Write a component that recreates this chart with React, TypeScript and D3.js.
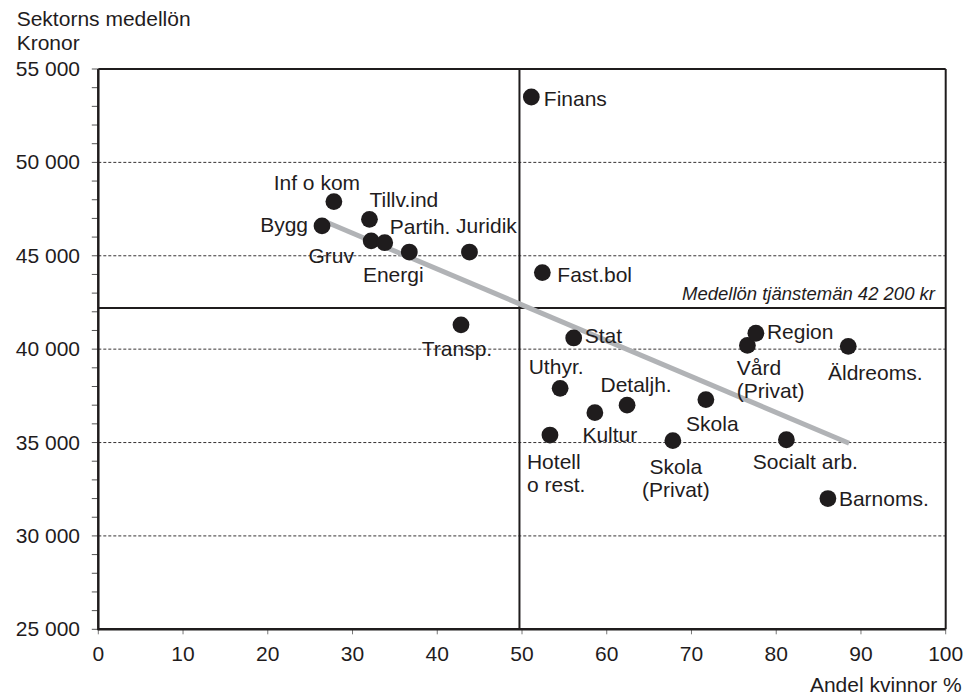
import React from "react";
import * as d3 from "d3";

const sectors = [
  "Finans", "Inf o kom", "Bygg", "Tillv.ind", "Gruv", "Partih.", "Energi", "Juridik",
  "Fast.bol", "Transp.", "Stat", "Uthyr.", "Kultur", "Detaljh.", "Hotell o rest.",
  "Skola (Privat)", "Skola", "Vård (Privat)", "Region", "Äldreoms.", "Socialt arb.", "Barnoms.",
];
const womenShare = [
  51.1, 27.8, 26.4, 32.0, 32.2, 33.8, 36.7, 43.8,
  52.4, 42.8, 56.1, 54.5, 58.6, 62.4, 53.3,
  67.8, 71.7, 76.6, 77.6, 88.5, 81.2, 86.1,
];
const salary = [
  53500, 47900, 46600, 46950, 45800, 45700, 45200, 45200,
  44100, 41300, 40600, 37900, 36600, 37000, 35400,
  35100, 37300, 40200, 40850, 40150, 35150, 32000,
];
const labelLines: string[][] = [
  ["Finans"], ["Inf o kom"], ["Bygg"], ["Tillv.ind"], ["Gruv"], ["Partih."], ["Energi"], ["Juridik"],
  ["Fast.bol"], ["Transp."], ["Stat"], ["Uthyr."], ["Kultur"], ["Detaljh."], ["Hotell", "o rest."],
  ["Skola", "(Privat)"], ["Skola"], ["Vård", "(Privat)"], ["Region"], ["Äldreoms."], ["Socialt arb."], ["Barnoms."],
];
const trendX = [26.4, 88.6];
const trendY = [46900, 34960];
const avgSalary = 42200;
const avgWomen = 49.7;
const xTicks = [0, 10, 20, 30, 40, 50, 60, 70, 80, 90, 100];
const yTicks = [25000, 30000, 35000, 40000, 45000, 50000, 55000];
const yGrid = [30000, 35000, 40000, 45000, 50000];
const yMinor = d3.range(25000, 55001, 1000);
const avgLabel = "Medellön tjänstemän 42 200 kr";
const yTitle = ["Sektorns medellön", "Kronor"];
const xTitle = "Andel kvinnor %";

// label layout: [anchor, dx, dy]
const labelLayout: Record<string, [string, number, number]> = {
  "Finans": ["start", 12.5, 9],
  "Inf o kom": ["middle", -17, -12],
  "Bygg": ["end", -14, 6],
  "Tillv.ind": ["start", 0, -12],
  "Gruv": ["middle", -40, 22],
  "Partih.": ["start", 5, -9],
  "Energi": ["middle", -16, 30],
  "Juridik": ["middle", 17, -19],
  "Fast.bol": ["start", 15, 9],
  "Transp.": ["middle", -4, 31],
  "Stat": ["start", 11, 5],
  "Uthyr.": ["middle", -4, -14],
  "Kultur": ["middle", 15, 29],
  "Detaljh.": ["middle", 9, -13],
  "Hotell o rest.": ["start", -23, 34],
  "Skola (Privat)": ["middle", 3, 33],
  "Skola": ["middle", 6.5, 31],
  "Vård (Privat)": ["start", -10.6, 30],
  "Region": ["start", 11, 6],
  "Äldreoms.": ["middle", 27, 34],
  "Socialt arb.": ["middle", 19, 29],
  "Barnoms.": ["start", 11, 7.5],
};

const FONT = "'Liberation Sans', Arial, Helvetica, sans-serif";
const INK = "#1f1c1d";

function T({ x, y, anchor = "start", size = 21, italic = false, children }: any) {
  return (
    <text
      x={x}
      y={y}
      textAnchor={anchor}
      fontFamily={FONT}
      fontSize={size}
      fontStyle={italic ? "italic" : "normal"}
      fill={INK}
    >
      {children}
    </text>
  );
}

export default function App() {
  const W = 966, H = 697;
  const L = 98.3, R = 945.7, TOP = 69, B = 629.3;
  const x = d3.scaleLinear().domain([0, 100]).range([L, R]);
  const y = d3.scaleLinear().domain([25000, 55000]).range([B, TOP]);
  const fmt = (v: number) => d3.format(",")(v).replace(/,/g, " ");
  const trendLine = d3.line<number>().x((d) => x(trendX[d])).y((d) => y(trendY[d]))([0, 1]);

  return (
    <svg width={W} height={H} style={{ position: "absolute", left: 0, top: 0, background: "#fff" }}>
      <rect width={W} height={H} fill="#fff" />
      {yGrid.map((v) => (
        <line key={v} x1={L} x2={R} y1={y(v)} y2={y(v)} stroke={INK} strokeWidth={0.9} strokeDasharray="3,2" />
      ))}
      {yMinor.map((v) => (
        <line key={v} x1={L - 6.5} x2={L} y1={y(v)} y2={y(v)} stroke="#555" strokeWidth={1} />
      ))}
      {xTicks.map((v) => (
        <line key={v} x1={x(v)} x2={x(v)} y1={B} y2={B + 5} stroke="#777" strokeWidth={1} />
      ))}
      <line x1={L} x2={R} y1={TOP} y2={TOP} stroke={INK} strokeWidth={2} />
      <line x1={R} x2={R} y1={TOP} y2={B} stroke={INK} strokeWidth={2} />
      <line x1={L} x2={L} y1={TOP} y2={B + 1} stroke={INK} strokeWidth={2.5} />
      <line x1={L} x2={R} y1={B} y2={B} stroke={INK} strokeWidth={2.5} />
      <line x1={x(avgWomen)} x2={x(avgWomen)} y1={TOP} y2={B} stroke={INK} strokeWidth={2} />
      <line x1={L} x2={R} y1={y(avgSalary)} y2={y(avgSalary)} stroke={INK} strokeWidth={2} />
      <path d={trendLine || ""} stroke="#b1b3b6" strokeWidth={5} fill="none" />
      {sectors.map((s, i) => (
        <circle key={s} cx={x(womenShare[i])} cy={y(salary[i])} r={8.4} fill={INK} />
      ))}
      {sectors.map((s, i) => {
        const [anchor, dx, dy] = labelLayout[s];
        const px = x(womenShare[i]) + dx;
        const py = y(salary[i]) + dy;
        return (
          <g key={s}>
            {labelLines[i].map((ln, j) => (
              <T key={j} x={px} y={py + j * 23} anchor={anchor}>{ln}</T>
            ))}
          </g>
        );
      })}
      <T x={935} y={y(avgSalary) - 8} anchor="end" size={18.5} italic>{avgLabel}</T>
      {yTicks.map((v) => (
        <T key={v} x={80} y={y(v) + 7} anchor="end">{fmt(v)}</T>
      ))}
      {xTicks.map((v) => (
        <T key={v} x={x(v)} y={B + 32} anchor="middle">{v}</T>
      ))}
      <T x={16.7} y={26}>{yTitle[0]}</T>
      <T x={16.7} y={50}>{yTitle[1]}</T>
      <T x={961.7} y={691.7} anchor="end">{xTitle}</T>
    </svg>
  );
}
